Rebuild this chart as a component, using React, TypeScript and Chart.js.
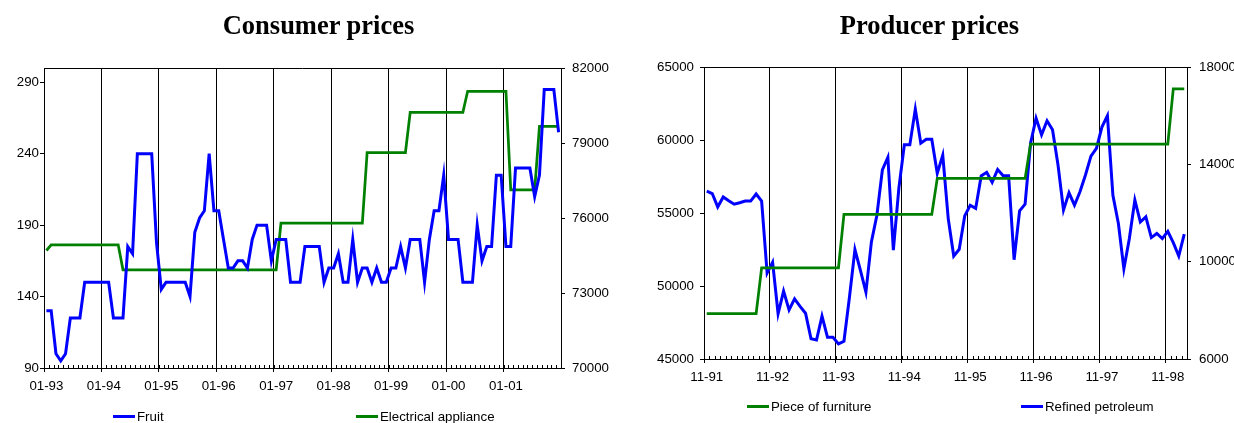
import React, { useEffect, useRef } from 'react';
import { Chart, registerables } from 'chart.js';

Chart.register(...registerables);

// ---------- Consumer prices ----------
const CP_MONTHS = [
  '01-93','02-93','03-93','04-93','05-93','06-93','07-93','08-93','09-93','10-93','11-93','12-93',
  '01-94','02-94','03-94','04-94','05-94','06-94','07-94','08-94','09-94','10-94','11-94','12-94',
  '01-95','02-95','03-95','04-95','05-95','06-95','07-95','08-95','09-95','10-95','11-95','12-95',
  '01-96','02-96','03-96','04-96','05-96','06-96','07-96','08-96','09-96','10-96','11-96','12-96',
  '01-97','02-97','03-97','04-97','05-97','06-97','07-97','08-97','09-97','10-97','11-97','12-97',
  '01-98','02-98','03-98','04-98','05-98','06-98','07-98','08-98','09-98','10-98','11-98','12-98',
  '01-99','02-99','03-99','04-99','05-99','06-99','07-99','08-99','09-99','10-99','11-99','12-99',
  '01-00','02-00','03-00','04-00','05-00','06-00','07-00','08-00','09-00','10-00','11-00','12-00',
  '01-01','02-01','03-01','04-01','05-01','06-01','07-01','08-01','09-01','10-01','11-01','12-01',
];
const CP_YEAR_TICKS = ['01-93','01-94','01-95','01-96','01-97','01-98','01-99','01-00','01-01'];

const FRUIT = [
  130,130,100,95,100,125,125,125,150,150,150,150,
  150,150,125,125,125,175,170,240,240,240,240,178,
  145,150,150,150,150,150,140,185,195,200,240,200,
  200,180,160,160,165,165,160,180,190,190,190,165,
  180,180,180,150,150,150,175,175,175,175,150,160,
  160,170,150,150,180,150,160,160,150,160,150,150,
  160,160,175,160,180,180,180,150,180,200,200,225,
  180,180,180,150,150,150,190,165,175,175,225,225,
  175,175,230,230,230,230,210,225,285,285,285,255,
];

const ELECTRICAL = [
  74700,74930,74930,74930,74930,74930,74930,74930,74930,74930,74930,74930,
  74930,74930,74930,74930,73930,73930,73930,73930,73930,73930,73930,73930,
  73930,73930,73930,73930,73930,73930,73930,73930,73930,73930,73930,73930,
  73930,73930,73930,73930,73930,73930,73930,73930,73930,73930,73930,73930,
  73930,75800,75800,75800,75800,75800,75800,75800,75800,75800,75800,75800,
  75800,75800,75800,75800,75800,75800,75800,78620,78620,78620,78620,78620,
  78620,78620,78620,78620,80230,80230,80230,80230,80230,80230,80230,80230,
  80230,80230,80230,80230,81070,81070,81070,81070,81070,81070,81070,81070,
  81070,77130,77130,77130,77130,77130,77130,79670,79670,79670,79670,79670,
];

const CP_LEFT_TICKS = [90, 140, 190, 240, 290];
const CP_RIGHT_TICKS = [70000, 73000, 76000, 79000, 82000];

// ---------- Producer prices ----------
const PP_MONTHS = [
  '11-91','12-91','01-92','02-92','03-92','04-92','05-92','06-92','07-92','08-92','09-92','10-92',
  '11-92','12-92','01-93','02-93','03-93','04-93','05-93','06-93','07-93','08-93','09-93','10-93',
  '11-93','12-93','01-94','02-94','03-94','04-94','05-94','06-94','07-94','08-94','09-94','10-94',
  '11-94','12-94','01-95','02-95','03-95','04-95','05-95','06-95','07-95','08-95','09-95','10-95',
  '11-95','12-95','01-96','02-96','03-96','04-96','05-96','06-96','07-96','08-96','09-96','10-96',
  '11-96','12-96','01-97','02-97','03-97','04-97','05-97','06-97','07-97','08-97','09-97','10-97',
  '11-97','12-97','01-98','02-98','03-98','04-98','05-98','06-98','07-98','08-98','09-98','10-98',
  '11-98','12-98','01-99','02-99',
];
const PP_YEAR_TICKS = ['11-91','11-92','11-93','11-94','11-95','11-96','11-97','11-98'];

const FURNITURE = [
  48100,48100,48100,48100,48100,48100,48100,48100,48100,48100,51250,51250,
  51250,51250,51250,51250,51250,51250,51250,51250,51250,51250,51250,51250,
  51250,54900,54900,54900,54900,54900,54900,54900,54900,54900,54900,54900,
  54900,54900,54900,54900,54900,54900,57370,57370,57370,57370,57370,57370,
  57370,57370,57370,57370,57370,57370,57370,57370,57370,57370,57370,59710,
  59710,59710,59710,59710,59710,59710,59710,59710,59710,59710,59710,59710,
  59710,59710,59710,59710,59710,59710,59710,59710,59710,59710,59710,59710,
  59710,63500,63500,63500,
];

const PETROLEUM = [
  12900,12800,12250,12660,12500,12360,12420,12490,12490,12780,12490,9530,
  9980,7860,8790,8020,8470,8160,7880,6830,6780,7760,6890,6890,
  6620,6730,8540,10500,9640,8750,10810,11910,13770,14290,10470,13010,
  14800,14800,16270,14870,15030,15030,13630,14380,11770,10230,10510,11880,
  12320,12190,13520,13670,13260,13790,13530,13530,10080,12090,12360,14870,
  15900,15210,15790,15420,13970,12120,12830,12320,12870,13560,14340,14660,
  15530,16000,12730,11570,9710,10950,12530,11630,11840,10990,11160,10950,
  11250,10780,10230,11130,
];

const PP_LEFT_TICKS = [45000, 50000, 55000, 60000, 65000];
const PP_RIGHT_TICKS = [6000, 10000, 14000, 18000];

const BLUE = '#0000ff';
const GREEN = '#008000';
const SANS = "'Liberation Sans', Arial, sans-serif";
const SERIF = "'Liberation Serif', 'Times New Roman', serif";
const TICK_FONT = { family: SANS, size: 13.3 };

const framePlugin = {
  id: 'frame',
  afterDatasetsDraw(chart: any) {
    const { ctx, chartArea: a } = chart;
    const x = chart.scales.x;
    const n = chart.data.labels.length;
    ctx.save();
    ctx.strokeStyle = '#000';
    ctx.lineWidth = 1;
    ctx.beginPath();
    ctx.moveTo(a.left, Math.round(a.top) + 0.5);
    ctx.lineTo(a.right, Math.round(a.top) + 0.5);
    const half = (x.getPixelForValue(1) - x.getPixelForValue(0)) / 2;
    for (let i = 0; i <= n; i++) {
      const px = i < n ? x.getPixelForValue(i) - half : x.getPixelForValue(n - 1) + half;
      const p = Math.round(px) + 0.5;
      ctx.moveTo(p, a.bottom);
      ctx.lineTo(p, a.bottom - 3);
    }
    ctx.stroke();
    ctx.restore();
  },
};

type Cfg = {
  labels: string[];
  yearTicks: string[];
  datasets: any[];
  left: { min: number; max: number; ticks: number[]; width: number; pad: number };
  right: { min: number; max: number; ticks: number[]; width: number; pad: number };
  top: number;
  xHeight: number;
};

function buildConfig(c: Cfg): any {
  const isYear = (i: number) => i < c.labels.length && c.yearTicks.includes(c.labels[i]);
  const gridColor = (ctx: any) => (isYear(ctx.index) ? '#000' : 'rgba(0,0,0,0)');
  const yAxis = (s: Cfg['left'], position: 'left' | 'right') => ({
    type: 'linear',
    position,
    min: s.min,
    max: s.max,
    afterBuildTicks: (axis: any) => {
      axis.ticks = s.ticks.map((v) => ({ value: v }));
    },
    afterFit: (axis: any) => {
      axis.width = s.width;
    },
    grid: { drawOnChartArea: false, tickLength: 4, tickColor: '#000', color: '#000' },
    border: { color: '#000', width: 1 },
    ticks: { color: '#000', font: TICK_FONT, padding: s.pad, callback: (v: any) => String(v) },
  });
  return {
    type: 'line',
    data: { labels: c.labels, datasets: c.datasets },
    options: {
      animation: false,
      responsive: false,
      maintainAspectRatio: false,
      layout: { padding: { top: c.top, left: 0, right: 0, bottom: 0 } },
      plugins: { legend: { display: false }, tooltip: { enabled: false }, title: { display: false } },
      elements: { point: { radius: 0 }, line: { tension: 0 } },
      scales: {
        x: {
          type: 'category',
          offset: true,
          afterFit: (axis: any) => {
            axis.height = c.xHeight;
          },
          grid: {
            offset: true,
            drawOnChartArea: true,
            color: gridColor,
            tickColor: gridColor,
            tickLength: 4,
            lineWidth: 1,
          },
          border: { color: '#000', width: 1 },
          ticks: {
            autoSkip: false,
            maxRotation: 0,
            minRotation: 0,
            padding: 6,
            color: '#000',
            font: TICK_FONT,
            callback: (_v: any, idx: number) => (isYear(idx) ? c.labels[idx] : ''),
          },
        },
        y: yAxis(c.left, 'left'),
        y1: yAxis(c.right, 'right'),
      },
    },
    plugins: [framePlugin],
  };
}

const line = (label: string, data: number[], color: string, axis: string, width: number) => ({
  label,
  data,
  borderColor: color,
  backgroundColor: color,
  borderWidth: width,
  pointRadius: 0,
  fill: false,
  yAxisID: axis,
});

function ChartCanvas({ cfg, left, width }: { cfg: Cfg; left: number; width: number }) {
  const ref = useRef<HTMLCanvasElement | null>(null);
  useEffect(() => {
    if (!ref.current) return;
    const chart = new Chart(ref.current, buildConfig(cfg));
    return () => chart.destroy();
  }, []);
  return (
    <canvas
      ref={ref}
      width={width}
      height={423}
      style={{ position: 'absolute', left, top: 0, width, height: 423 }}
    />
  );
}

function Title({ text, center }: { text: string; center: number }) {
  return (
    <div
      style={{
        position: 'absolute',
        left: center - 200,
        width: 400,
        top: 10,
        lineHeight: '30px',
        textAlign: 'center',
        fontFamily: SERIF,
        fontWeight: 'bold',
        fontSize: 26.5,
        color: '#000',
      }}
    >
      {text}
    </div>
  );
}

function LegendItem({ text, color, x, y }: { text: string; color: string; x: number; y: number }) {
  return (
    <div
      style={{
        position: 'absolute',
        left: x,
        top: y - 8,
        height: 16,
        display: 'flex',
        alignItems: 'center',
        whiteSpace: 'nowrap',
        fontFamily: SANS,
        fontSize: 13.3,
        color: '#000',
      }}
    >
      <span style={{ display: 'inline-block', width: 22, height: 3, background: color, marginRight: 2 }} />
      {text}
    </div>
  );
}

export default function App() {
  const consumer: Cfg = {
    labels: CP_MONTHS,
    yearTicks: CP_YEAR_TICKS,
    datasets: [line('Fruit', FRUIT, BLUE, 'y', 3), line('Electrical appliance', ELECTRICAL, GREEN, 'y1', 2.75)],
    left: { min: 90, max: 300, ticks: CP_LEFT_TICKS, width: 44, pad: 1 },
    right: { min: 70000, max: 82000, ticks: CP_RIGHT_TICKS, width: 59, pad: 7 },
    top: 68,
    xHeight: 55,
  };
  const producer: Cfg = {
    labels: PP_MONTHS,
    yearTicks: PP_YEAR_TICKS,
    datasets: [line('Piece of furniture', FURNITURE, GREEN, 'y', 2.75), line('Refined petroleum', PETROLEUM, BLUE, 'y1', 3)],
    left: { min: 45000, max: 65000, ticks: PP_LEFT_TICKS, width: 84, pad: 6 },
    right: { min: 6000, max: 18000, ticks: PP_RIGHT_TICKS, width: 47, pad: 8 },
    top: 67,
    xHeight: 64,
  };
  return (
    <div style={{ position: 'absolute', left: 0, top: 0, width: 1234, height: 423, background: '#fff', overflow: 'hidden' }}>
      <ChartCanvas cfg={consumer} left={0} width={620} />
      <ChartCanvas cfg={producer} left={620} width={614} />
      <Title text="Consumer prices" center={318.5} />
      <Title text="Producer prices" center={929.5} />
      <LegendItem text="Fruit" color={BLUE} x={113} y={416} />
      <LegendItem text="Electrical appliance" color={GREEN} x={356} y={416} />
      <LegendItem text="Piece of furniture" color={GREEN} x={747} y={406} />
      <LegendItem text="Refined petroleum" color={BLUE} x={1021} y={406} />
    </div>
  );
}
